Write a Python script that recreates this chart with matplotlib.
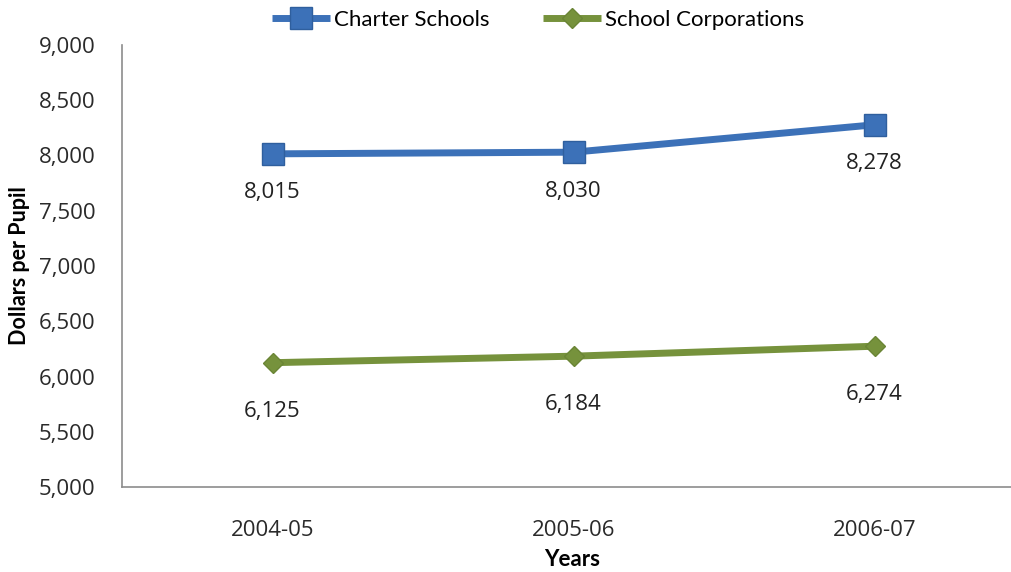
import matplotlib.pyplot as plt

years = ["2004-05", "2005-06", "2006-07"]
charter = [8015, 8030, 8278]
corporations = [6125, 6184, 6274]

fig = plt.figure(figsize=(10.11, 5.72), dpi=100)
# plot area runs off the right edge of the canvas
ax = fig.add_axes([122 / 1011, 1 - 487 / 572, 903 / 1011, 442 / 572])

x = range(len(years))
ax.plot(x, charter, color="#3C71B8", lw=5, marker="s", ms=16.5,
        mfc="#3C71B8", mec="#2F5F9E", mew=1, label="Charter Schools", solid_capstyle="butt")
ax.plot(x, corporations, color="#76923C", lw=5, marker="D", ms=10,
        mfc="#76923C", mec="#6A8535", mew=1, label="School Corporations", solid_capstyle="butt")

num_font = {"family": "Open Sans", "size": 16, "color": "#222222"}
for i, v in enumerate(charter):
    ax.annotate(f"{v:,}", (i, v), xytext=(0, -28), textcoords="offset points",
                ha="center", va="center", **num_font)
for i, v in enumerate(corporations):
    ax.annotate(f"{v:,}", (i, v), xytext=(0, -35), textcoords="offset points",
                ha="center", va="center", **num_font)

ax.set_xlim(-0.5, 2.5)
ax.set_ylim(5000, 9000)
ticks = list(range(5000, 9001, 500))
ax.set_yticks(ticks)
ax.set_yticklabels([f"{t:,}" for t in ticks], family="Open Sans", fontsize=16)
ax.set_xticks(list(x))
ax.set_xticklabels(years, family="Open Sans", fontsize=16)
ax.tick_params(axis="both", length=0, colors="#2a2a2a")
ax.tick_params(axis="x", pad=24)
ax.tick_params(axis="y", pad=19)

for s in ["top", "right"]:
    ax.spines[s].set_visible(False)
for s in ["left", "bottom"]:
    ax.spines[s].set_color("#8C8C8C")
    ax.spines[s].set_linewidth(1.2)

ax.set_xlabel("Years", family="Lato", fontweight="bold", fontsize=16)
ax.xaxis.set_label_coords(572 / 903 - 122 / 903, -(560 - 487) / 442)
ax.set_ylabel("Dollars per Pupil", family="Lato", fontweight="bold", fontsize=15.5)
ax.yaxis.set_label_coords(-(122 - 20) / 903, 0.5)
ax.xaxis.label.set_va("center")
ax.yaxis.label.set_va("center")

fig.legend(loc="center", bbox_to_anchor=(538 / 1011, 1 - 20 / 572), ncol=2, frameon=False,
           prop={"family": "Lato", "size": 16}, handlelength=2.6, handletextpad=0.2,
           columnspacing=2.4)

fig.savefig("out.png", dpi=100)
